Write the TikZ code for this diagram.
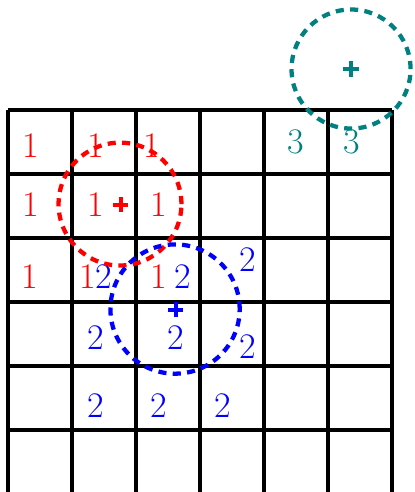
\documentclass[tikz,border=0pt]{standalone}
\begin{document}
\begin{tikzpicture}[
  gridline/.style={line width=1.35pt, black},
  circ/.style={line width=1.9pt, dash pattern=on 3.6pt off 2.8pt},
  lab/.style={inner sep=0pt, font=\fontsize{16}{19}\selectfont},
  pluslw/.style={line width=1.8pt}
]
\useasboundingbox (-0.125,0.03125) rectangle (6.34375,7.71875);
\draw[gridline] (0,0) grid (6,6);
% red labels
\foreach \p [count=\i] in {(0.36,5.44),(1.375,5.44),(2.25,5.44),(0.36,4.52),(1.375,4.52),(2.36,4.52),(0.345,3.39),(1.25,3.39),(2.36,3.39)}
  \node[lab, text=red] (r\i) at \p {1};
% blue labels
\foreach \p [count=\i] in {(1.49,3.39),(2.73,3.39),(3.75,3.67),(1.375,2.44),(2.625,2.44),(3.75,2.30),(1.375,1.375),(2.36,1.375),(3.36,1.375)}
  \node[lab, text=blue] (b\i) at \p {2};
% teal labels
\node[lab, text=teal] (t1) at (4.5,5.5) {3};
\node[lab, text=teal] (t2) at (5.375,5.5) {3};
% circles
\coordinate (cr) at (1.76,4.52);
\coordinate (cb) at (2.62,2.88);
\coordinate (ct) at (5.36,6.64);
\draw[circ, red] (1.75,4.53) circle (0.96);
\draw[circ, blue] (2.61,2.89) circle (1.01);
\draw[circ, teal] (5.36,6.64) circle (0.93);
% plus marks
\foreach \c/\col in {cr/red, cb/blue, ct/teal}{
  \draw[pluslw, \col] ([xshift=-0.12cm]\c) -- ([xshift=0.12cm]\c);
  \draw[pluslw, \col] ([yshift=-0.12cm]\c) -- ([yshift=0.12cm]\c);
}
\end{tikzpicture}
\end{document}
